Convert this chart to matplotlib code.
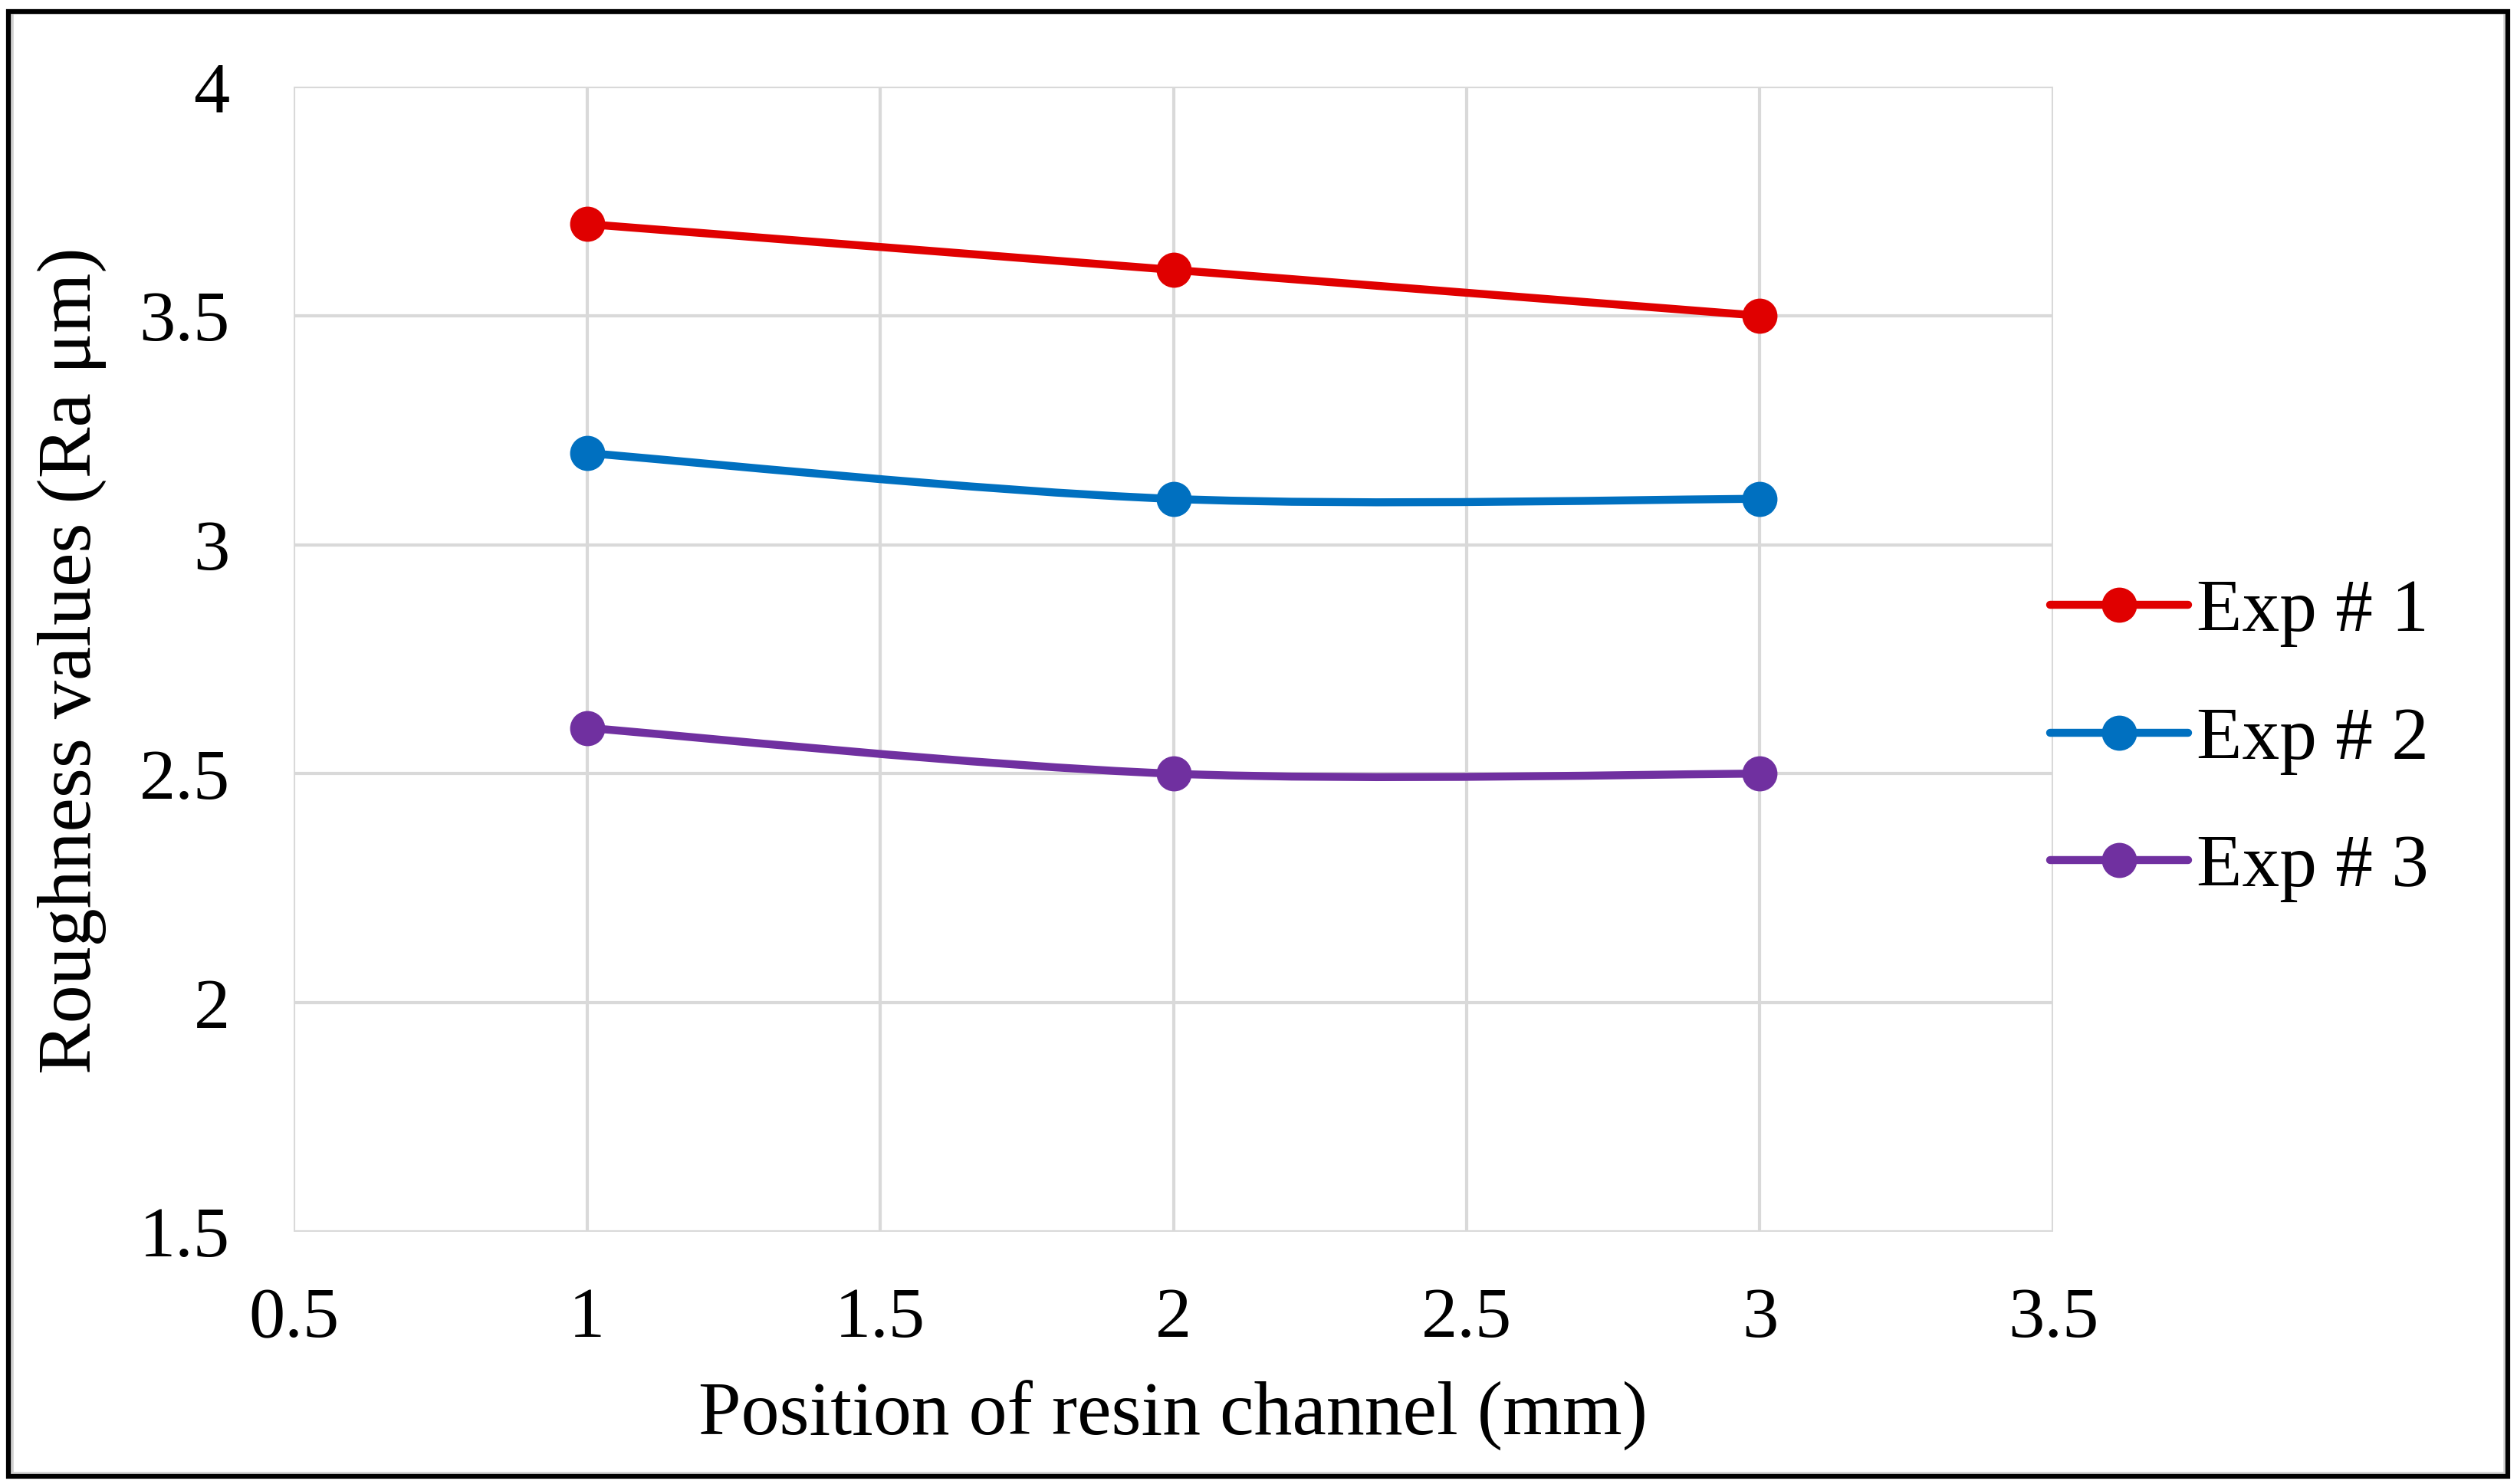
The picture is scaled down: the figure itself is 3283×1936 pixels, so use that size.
import numpy as np
import matplotlib.pyplot as plt
from matplotlib.path import Path
from matplotlib.patches import PathPatch, Rectangle
from matplotlib.lines import Line2D

plt.rcParams['font.family'] = ['Liberation Serif', 'DejaVu Serif']

# Data
positions = [1, 2, 3]
exp1 = [3.7, 3.6, 3.5]
exp2 = [3.2, 3.1, 3.1]
exp3 = [2.6, 2.5, 2.5]
labels = ["Exp # 1", "Exp # 2", "Exp # 3"]
colors = ["#E00000", "#0070C0", "#7030A0"]

x_ticks = [0.5, 1, 1.5, 2, 2.5, 3, 3.5]
y_ticks = [1.5, 2, 2.5, 3, 3.5, 4]


def smooth_path(xs, ys):
    # Excel-style smoothed line: cubic Bezier through the points
    pts = np.column_stack([xs, ys]).astype(float)
    n = len(pts)
    verts = [pts[0]]
    codes = [Path.MOVETO]
    for i in range(n - 1):
        p0 = pts[max(i - 1, 0)]
        p1 = pts[i]
        p2 = pts[i + 1]
        p3 = pts[min(i + 2, n - 1)]
        verts += [p1 + (p2 - p0) / 6, p2 - (p3 - p1) / 6, p2]
        codes += [Path.CURVE4] * 3
    return Path(verts, codes)


fig = plt.figure(figsize=(32.83, 19.36), dpi=100)
ax = fig.add_axes([0.1167, 0.170, 0.6990, 0.7716])

handles = []
for ys, lab, c in zip([exp1, exp2, exp3], labels, colors):
    ax.add_patch(PathPatch(smooth_path(positions, ys), fill=False, edgecolor=c,
                           lw=7.5, capstyle='round', zorder=3))
    ax.plot(positions, ys, 'o', color=c, markersize=32, zorder=4)
    handles.append(Line2D([], [], color=c, lw=7.5, marker='o', markersize=32,
                          solid_capstyle='round'))

ax.set_xlim(0.5, 3.5)
ax.set_ylim(1.5, 4)
ax.set_xticks(x_ticks)
ax.set_yticks(y_ticks)
ax.set_xticklabels(["0.5", "1", "1.5", "2", "2.5", "3", "3.5"])
ax.set_yticklabels(["1.5", "2", "2.5", "3", "3.5", "4"])
ax.tick_params(length=0, labelsize=68)
ax.tick_params(axis='y', pad=60)
ax.tick_params(axis='x', pad=52)
ax.grid(True, color="#D9D9D9", lw=3)
ax.set_axisbelow(True)
for s in ax.spines.values():
    s.set_visible(False)

fig.text(0.466, 0.046, "Position of resin channel (mm)", fontsize=72,
         ha='center', va='center')
fig.text(0.0287, 0.555, "Roughness values (Ra μm)", fontsize=72,
         ha='center', va='center', rotation=90)

fig.legend(handles, labels, loc='center left', bbox_to_anchor=(0.8144, 0.501),
           frameon=False, fontsize=70, handlelength=1.85, handletextpad=0.12,
           labelspacing=0.8, borderpad=0, borderaxespad=0)

# outer frame
fig.patches.append(Rectangle((0.0045, 0.0065), 0.9910, 0.9850, transform=fig.transFigure,
                             fill=False, edgecolor="#D0D0D0", lw=4))
fig.patches.append(Rectangle((0.0032, 0.0054), 0.9930, 0.9870, transform=fig.transFigure,
                             fill=False, edgecolor="black", lw=4.5))

fig.savefig("out.png", dpi=100)
plt.close()
